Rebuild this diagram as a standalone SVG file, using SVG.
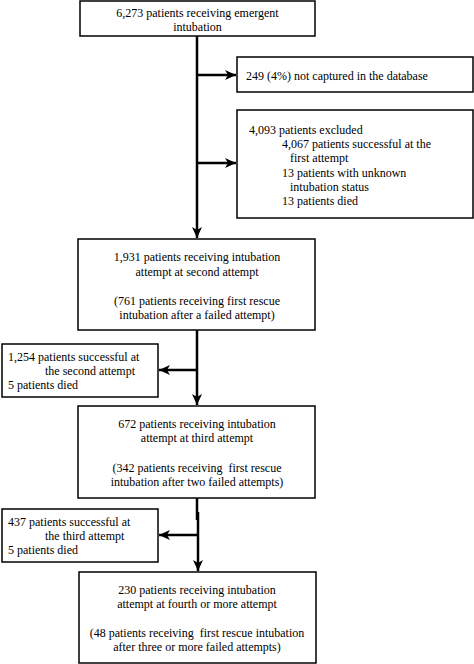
<svg xmlns="http://www.w3.org/2000/svg" width="474" height="664" viewBox="0 0 474 664" font-family="'Liberation Serif', 'Times New Roman', Times, serif">
<style>
.box{fill:#fff;stroke:#000;stroke-width:1.5}
text{font-family:'Liberation Serif', 'Times New Roman', Times, serif;font-size:12px;fill:#000;white-space:pre}
.c{text-anchor:middle}
.conn{stroke:#000;stroke-width:2.5;fill:none}
</style>
<defs>
<marker id="ah" markerUnits="userSpaceOnUse" markerWidth="12" markerHeight="12" viewBox="0 0 12 12" refX="11" refY="6" orient="auto">
<path d="M0,1 L11,6 L0,11 L3,6 Z" fill="#000"/>
</marker>
</defs>
<rect width="474" height="664" fill="#fff"/>
<g id="connectors">
<line class="conn" x1="197" y1="36" x2="197" y2="238" marker-end="url(#ah)"/>
<line class="conn" x1="197" y1="75" x2="236" y2="75" marker-end="url(#ah)"/>
<line class="conn" x1="197" y1="163" x2="236" y2="163" marker-end="url(#ah)"/>
<line class="conn" x1="197" y1="330" x2="197" y2="405" marker-end="url(#ah)"/>
<line class="conn" x1="197" y1="370" x2="159" y2="370" marker-end="url(#ah)"/>
<line class="conn" x1="197" y1="498" x2="197" y2="520"/>
<line class="conn" x1="198" y1="512" x2="198" y2="571" marker-end="url(#ah)"/>
<line class="conn" x1="198" y1="535" x2="159" y2="535" marker-end="url(#ah)"/>
</g>
<g id="n1">
<rect class="box" x="80" y="1" width="235" height="35"/>
<text class="c" x="197.5" y="17">6,273 patients receiving emergent</text>
<text class="c" x="197.5" y="31">intubation</text>
</g>
<g id="n2">
<rect class="box" x="237" y="57" width="236" height="35"/>
<text x="246" y="80">249 (4%) not captured in the database</text>
</g>
<g id="n3">
<rect class="box" x="237" y="110" width="236" height="108"/>
<text x="249" y="134">4,093 patients excluded</text>
<text x="282" y="148">4,067 patients successful at the</text>
<text x="290" y="162">first attempt</text>
<text x="282" y="177">13 patients with unknown</text>
<text x="290" y="191">intubation status</text>
<text x="282" y="205">13 patients died</text>
</g>
<g id="n4">
<rect class="box" x="78" y="239" width="237" height="91"/>
<text class="c" x="197" y="261">1,931 patients receiving intubation</text>
<text class="c" x="197" y="276">attempt at second attempt</text>
<text class="c" x="197" y="305">(761 patients receiving first rescue</text>
<text class="c" x="197" y="319">intubation after a failed attempt)</text>
</g>
<g id="n5">
<rect class="box" x="2" y="344" width="156" height="53"/>
<text x="8" y="361">1,254 patients successful at</text>
<text x="45" y="375">the second attempt</text>
<text x="8" y="389">5 patients died</text>
</g>
<g id="n6">
<rect class="box" x="78" y="406" width="237" height="92"/>
<text class="c" x="197" y="428">672 patients receiving intubation</text>
<text class="c" x="197" y="442">attempt at third attempt</text>
<text class="c" x="197" y="472">(342 patients receiving  first rescue</text>
<text class="c" x="197" y="486">intubation after two failed attempts)</text>
</g>
<g id="n7">
<rect class="box" x="2" y="509" width="156" height="53"/>
<text x="8" y="526">437 patients successful at</text>
<text x="45" y="540">the third attempt</text>
<text x="8" y="554">5 patients died</text>
</g>
<g id="n8">
<rect class="box" x="79" y="572" width="237" height="91"/>
<text class="c" x="197" y="594">230 patients receiving intubation</text>
<text class="c" x="197" y="608">attempt at fourth or more attempt</text>
<text class="c" x="197" y="637">(48 patients receiving  first rescue intubation</text>
<text class="c" x="197" y="651">after three or more failed attempts)</text>
</g>
</svg>
